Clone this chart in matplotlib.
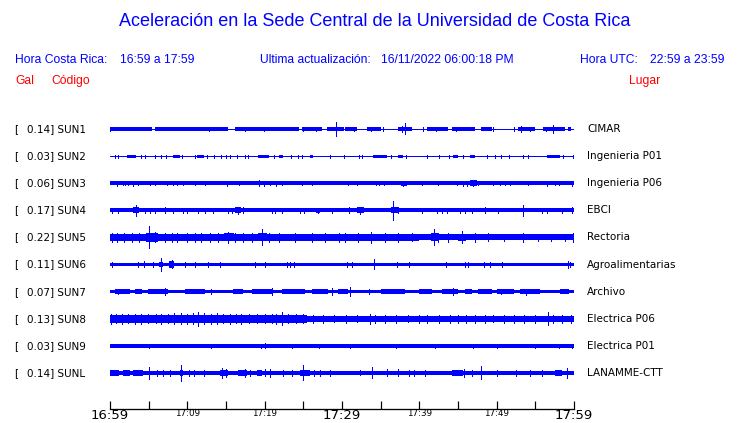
import matplotlib
matplotlib.use("Agg")
import matplotlib.pyplot as plt

# ---------------- data ----------------
codes = ["SUN1", "SUN2", "SUN3", "SUN4", "SUN5", "SUN6", "SUN7", "SUN8", "SUN9", "SUNL"]
gals = [0.14, 0.03, 0.06, 0.17, 0.22, 0.11, 0.07, 0.13, 0.03, 0.14]
places = ["CIMAR", "Ingenieria P01", "Ingenieria P06", "EBCI", "Rectoria",
          "Agroalimentarias", "Archivo", "Electrica P06", "Electrica P01", "LANAMME-CTT"]
tick_labels = ["16:59", "", "17:09", "", "17:19", "", "17:29", "", "17:39", "", "17:49", "", "17:59"]
tick_minutes = [0, 5, 10, 15, 20, 25, 30, 35, 40, 45, 50, 55, 60]

# baseline half-amplitude of each trace (pixels)
base_half = [0.5, 0.5, 1.9, 1.9, 2.9, 1.9, 1.9, 2.8, 1.9, 1.9]

# thicker sections of each trace: (start minute, end minute, half-amplitude px)
seg_sun1 = [(0, 5.4, 1.8), (5.8, 12.3, 1.8), (12.3, 15.3, 1.8), (16.2, 19.6, 1.8), (19.6, 24.4, 1.8),
            (24.8, 27.4, 1.8), (28, 30.2, 2.1), (30.4, 31.9, 1.8), (33.2, 35.1, 1.8), (37.3, 39, 2.1),
            (41, 43.7, 1.8), (44.2, 47.2, 1.8), (48, 49.4, 1.8), (52.8, 55, 1.9), (56, 58.8, 1.8),
            (59.2, 59.6, 1.8)]
seg_sun2 = [(2.2, 3.4, 1.5), (8.2, 9.0, 1.5), (11.2, 12.1, 1.5), (19.2, 20.5, 1.5), (21.8, 22.4, 1.5),
            (25.9, 26.3, 1.5), (34.0, 35.8, 1.5), (37.3, 37.9, 1.5), (44.4, 45.0, 1.5), (46.6, 47.2, 1.5),
            (56.5, 58.2, 1.5)]
seg_sun3 = [(37.6, 38.4, 2.5), (46.6, 47.4, 2.8)]
seg_sun4 = [(3.0, 3.7, 3.0), (16.2, 17.0, 3.0), (26.6, 27.1, 2.7), (32.0, 32.8, 3.0), (36.3, 37.4, 2.8)]
seg_sun5 = [(0, 25, 3.6), (25, 40, 3.2), (4.6, 6.2, 4.5), (14.8, 16.0, 4.1), (19.2, 20.3, 4.1),
            (41.5, 42.6, 4.0), (45.0, 46.0, 3.8)]
seg_sun6 = [(7.6, 8.3, 3.2), (6.4, 6.9, 2.7)]
seg_sun7 = [(0.65, 2.59, 2.7), (3.23, 4.1, 2.7), (4.96, 7.54, 2.7), (9.7, 12.28, 2.7), (15.95, 17.24, 2.7),
            (18.32, 20.9, 2.7), (22.2, 25.2, 2.7), (26.08, 28.2, 2.7), (29.5, 30.8, 2.7), (35.1, 38.1, 2.7),
            (39.9, 41.6, 2.7), (42.9, 45.05, 2.7), (45.9, 46.8, 2.7), (47.6, 49.4, 2.7), (50.0, 52.2, 2.7),
            (53.0, 55.6, 2.7), (58.2, 59.3, 2.7)]
seg_sun8 = [(0, 25.5, 3.9), (45.5, 47.5, 3.2), (52.0, 54.0, 3.2), (55.5, 58.0, 3.2)]
seg_sun9 = []
seg_sunl = [(0, 1.1, 2.6), (1.72, 2.6, 2.6), (3.02, 4.3, 2.6), (9.05, 9.5, 2.6), (14.2, 15.3, 3.4),
            (16.6, 17.7, 2.6), (19.0, 19.6, 2.6), (24.57, 25.9, 3.4), (44.2, 45.7, 2.6), (57.5, 58.4, 2.6)]
segments = [seg_sun1, seg_sun2, seg_sun3, seg_sun4, seg_sun5, seg_sun6, seg_sun7, seg_sun8, seg_sun9, seg_sunl]

# spikes of each trace: minute and half-amplitude (px)
spk_t_sun1 = [0.0, 12.8, 17.5, 19.9, 24.9, 26.6, 29.2, 31.5, 33.8, 35.3, 37.7, 38.2, 40.5, 42.2, 44.7,
              49.5, 52.2, 53.1, 54.3, 56.4, 57.3, 60.0]
spk_a_sun1 = [2, 2, 2, 2, 1.8, 1.8, 7.3, 2, 2, 2, 3, 5.5, 1.8, 2.2, 2.2, 1.8, 1.8, 3.2, 2, 2.3, 4, 2]
spk_t_sun2 = [0.6, 1.0, 4.0, 4.5, 5.8, 6.6, 7.2, 9.3, 11.0, 12.5, 13.5, 14.3, 15.0, 15.5, 16.4, 17.5,
              17.9, 21.2, 23.4, 24.3, 24.8, 28.5, 30.2, 32.2, 32.6, 36.3, 38.3, 41.0, 42.6, 43.8, 45.6,
              48.7, 49.8, 50.5, 51.6, 53.4, 54.0, 58.6, 59.9]
spk_a_sun2 = [1.5] * len(spk_t_sun2)
spk_t_sun3 = [0.86, 1.72, 1.94, 2.28, 3.02, 3.66, 5.17, 5.82, 7.33, 8.19, 8.62, 9.48, 10.99, 12.28,
              15.08, 16.68, 19.27, 19.96, 20.69, 21.42, 22.20, 24.87, 26.08, 30.82, 31.98, 34.35,
              34.79, 35.48, 37.93, 40.39, 42.46, 44.83, 45.69, 46.12, 46.98, 47.63, 49.57, 50.43,
              51.08, 51.72, 54.09, 56.46, 57.54, 58.06, 59.69]
spk_a_sun3 = [2.4, 2.3, 2.3, 2.3, 2.4, 2.3, 2.3, 2.3, 2.3, 2.3, 2.3, 2.3, 2.3, 2.3, 2.4, 2.3, 3.3,
              2.6, 2.3, 2.5, 2.3, 2.3, 2.3, 2.3, 2.3, 2.3, 2.3, 2.3, 2.6, 2.3, 2.3, 2.3, 2.4, 2.4,
              2.6, 2.3, 2.3, 2.3, 2.3, 2.3, 2.3, 2.4, 2.3, 2.3, 2.5]
spk_t_sun4 = [0.22, 1.08, 3.32, 4.53, 5.17, 5.82, 7.11, 8.19, 9.48, 9.91, 11.42, 12.28, 13.28, 15.30,
              15.73, 16.59, 17.24, 20.90, 21.34, 22.20, 24.57, 25.13, 26.86, 28.67, 30.95, 32.33,
              36.64, 37.29, 40.30, 42.24, 42.89, 43.54, 45.26, 45.91, 46.77, 48.49, 50.13, 53.45,
              55.82, 56.46, 58.40, 59.69]
spk_a_sun4 = [2.4, 2.4, 5.3, 2.4, 2.5, 2.4, 3, 2.4, 2.5, 2.5, 2.6, 2.4, 2.4, 2.4, 2.4, 3.5, 3, 2.4,
              2.5, 2.6, 2.4, 2.4, 2.6, 2.4, 3, 3.5, 9.3, 3, 2.4, 2.4, 2.5, 2.4, 2.5, 2.4, 2.4, 3,
              2.4, 5.3, 2.6, 2.5, 2.5, 3]
spk_t_sun5 = [0.2, 0.9, 1.8, 2.8, 3.8, 5.1, 5.8, 7.1, 8.0, 8.6, 9.9, 11.0, 11.8, 12.9, 14.0, 15.3,
              16.2, 17.2, 18.3, 19.7, 20.5, 21.8, 23.9, 26.1, 27.8, 29.6, 30.4, 32.1, 33.8, 35.5,
              37.3, 39.0, 41.9, 42.4, 43.7, 45.5, 47.2, 48.9, 51.0, 53.4, 55.3, 57.0, 58.8, 59.9]
spk_a_sun5 = [4.3, 4.5, 4.7, 4.3, 4.7, 11, 5, 4.5, 4.3, 4.7, 4.3, 4.5, 4.3, 4.7, 4.3, 5.2, 4.5, 4.3,
              4.7, 8, 4.7, 4.3, 4.7, 4.4, 4.3, 4.5, 4.3, 4.7, 5.3, 4.3, 4.3, 4.1, 8, 4.7, 4.3, 6,
              4.3, 4.1, 3.8, 4.3, 3.8, 3.8, 3.8, 4.3]
spk_t_sun6 = [0.22, 3.66, 4.40, 5.60, 6.60, 7.97, 9.70, 10.99, 12.71, 14.22, 18.75, 20.04, 22.84,
              23.27, 23.83, 30.60, 31.25, 34.14, 37.07, 38.71, 43.41, 45.91, 46.25, 48.40, 49.14,
              50.65, 59.27, 59.5]
spk_a_sun6 = [2.4, 2.4, 3, 2.4, 6.3, 4, 2.4, 2.6, 2.4, 2.6, 2.4, 2.4, 2.4, 2.4, 2.4, 2.4, 2.4, 5,
              2.4, 2.4, 2.4, 2.4, 2.4, 2.4, 2.4, 2.4, 3.2, 2.8]
spk_t_sun7 = [1.0, 7.1, 13.0, 20.9, 28.7, 31.0, 33.5, 44.4, 50.5, 53.8]
spk_a_sun7 = [2.8, 3.2, 2.8, 3.2, 3.2, 4.3, 2.8, 3.5, 2.8, 3.0]
spk_t_sun8 = [0.1, 0.8, 1.5, 2.3, 3.2, 4.0, 4.9, 5.9, 6.6, 7.5, 8.3, 9.2, 10.0, 10.7, 11.4, 12.2,
              13.0, 13.8, 14.6, 15.5, 16.3, 17.0, 18.0, 19.0, 20.0, 20.9, 21.5, 22.2, 23.0, 24.0,
              25.0, 26.3, 27.5, 29.0, 30.5, 31.9, 33.6, 34.3, 35.5, 37.0, 38.5, 40.0, 41.0, 42.6,
              44.0, 45.0, 46.0, 47.2, 48.5, 49.5, 51.0, 52.3, 53.5, 55.0, 56.6, 57.3, 58.5, 59.6]
spk_a_sun8 = [5, 4.7, 5, 4.7, 4.9, 5, 4.7, 4.6, 5, 4.7, 5.3, 5.5, 5, 5.5, 7, 5.5, 5, 5.3, 4.7, 5,
              4.7, 5, 4.7, 4.6, 4.7, 4.7, 5, 6.3, 4.7, 4.7, 4.6, 3.8, 3.8, 3.6, 3.8, 3.6, 5, 4.1,
              3.8, 3.8, 3.6, 3.8, 3.8, 3.8, 4.1, 3.8, 4.0, 3.8, 3.8, 3.6, 3.8, 3.9, 3.8, 3.8, 6.3,
              4.1, 3.8, 3.8]
spk_t_sun9 = [5, 13, 19.5, 20.0, 23.5, 27, 31, 37, 42, 47, 50, 55, 58, 59.7]
spk_a_sun9 = [2.2, 2.2, 2.2, 2.4, 2.2, 2.2, 2.2, 2.2, 2.2, 2.2, 2.2, 2.2, 2.2, 2.3]
spk_t_sunl = [5.0, 6.1, 6.8, 7.7, 9.13, 10.2, 10.9, 12.2, 14.5, 15.0, 17.45, 18.1, 20.04, 20.69,
              22.4, 23.5, 25.0, 26.4, 27.2, 28.4, 32.3, 33.84, 35.8, 37.3, 38.6, 39.3, 40.7, 45.82,
              46.8, 47.98, 50.0, 52.5, 54.3, 55.9, 59.14]
spk_a_sunl = [6, 2.8, 2.8, 2.6, 8, 3, 3, 2.8, 5, 4, 4, 3, 3.5, 4, 2.8, 3, 7.5, 2.8, 2.8, 3, 2.5,
              5.5, 3.5, 3.5, 2.8, 2.6, 2.8, 4, 2.8, 6.5, 2.8, 2.6, 2.8, 2.8, 5]
spike_times = [spk_t_sun1, spk_t_sun2, spk_t_sun3, spk_t_sun4, spk_t_sun5,
               spk_t_sun6, spk_t_sun7, spk_t_sun8, spk_t_sun9, spk_t_sunl]
spike_amps = [spk_a_sun1, spk_a_sun2, spk_a_sun3, spk_a_sun4, spk_a_sun5,
              spk_a_sun6, spk_a_sun7, spk_a_sun8, spk_a_sun9, spk_a_sunl]

# ---------------- layout ----------------
W, H = 740, 423
fig = plt.figure(figsize=(W / 100, H / 100), dpi=100)
fig.patch.set_facecolor("white")

X0, X1 = 110, 574          # pixel extent of the time axis
YTOP, YBOT = 100, 409      # pixel extent of the trace area
ax = fig.add_axes([X0 / W, 1 - YBOT / H, (X1 - X0) / W, (YBOT - YTOP) / H])
ax.set_xlim(0, 60)
ax.set_ylim(YBOT, YTOP)    # y in pixel units, downward
ax.patch.set_alpha(0)

BLUE = "#0000ff"
Y_FIRST, Y_STEP = 129, 27.1
px = 0.72  # one pixel in points

for i, code in enumerate(codes):
    yc = Y_FIRST + Y_STEP * i
    b = base_half[i]
    if b < 0.8:
        ax.hlines(yc, 0, 60, color=BLUE, lw=1.0 * px, antialiased=False)
    else:
        ax.fill_between([0, 60], yc - b, yc + b, color=BLUE, lw=0, antialiased=False)
    for (t0, t1, h) in segments[i]:
        ax.fill_between([t0, t1], yc - h, yc + h, color=BLUE, lw=0, antialiased=False)
    ts, am = spike_times[i], spike_amps[i]
    ax.vlines(ts, [yc - a for a in am], [yc + a for a in am], color=BLUE,
              lw=1.0 * px, antialiased=False)
    # left label
    fig.text(14 / W, 1 - yc / H, "[", fontsize=7.5, family="DejaVu Sans",
             va="center", ha="left", color="black")
    fig.text(27 / W, 1 - yc / H, f"{gals[i]:.2f}] {code}", fontsize=7.5,
             family="DejaVu Sans", va="center", ha="left", color="black")
    fig.text(587 / W, 1 - yc / H, places[i], fontsize=7.5, family="DejaVu Sans",
             va="center", ha="left", color="black")

# axis
for s in ["top", "left", "right"]:
    ax.spines[s].set_visible(False)
ax.spines["bottom"].set_linewidth(1.3 * px)
ax.set_yticks([])
ax.set_xticks(tick_minutes)
ax.set_xticklabels(tick_labels)
ax.tick_params(axis="x", direction="in", length=8.5 * px, width=1.2 * px, pad=0.3,
               color="black")
for lab, txt in zip(ax.get_xticklabels(), tick_labels):
    lab.set_family("DejaVu Sans")
    if txt in ("16:59", "17:29", "17:59"):
        lab.set_fontsize(9.5)
    else:
        lab.set_fontsize(6.3)

# header texts
SANS = "Liberation Sans"
fig.text(375 / W, 1 - 22 / H, "Aceleración en la Sede Central de la Universidad de Costa Rica",
         fontsize=13, family=SANS, color=BLUE, ha="center", va="center")
fig.text(15 / W, 1 - 60 / H, "Hora Costa Rica:", fontsize=8.7, family=SANS, color=BLUE,
         ha="left", va="center")
fig.text(120 / W, 1 - 60 / H, "16:59 a 17:59", fontsize=8.7, family=SANS, color=BLUE,
         ha="left", va="center")
fig.text(260 / W, 1 - 60 / H, "Ultima actualización:", fontsize=8.7, family=SANS, color=BLUE,
         ha="left", va="center")
fig.text(381 / W, 1 - 60 / H, "16/11/2022 06:00:18 PM", fontsize=8.7, family=SANS, color=BLUE,
         ha="left", va="center")
fig.text(580 / W, 1 - 60 / H, "Hora UTC:", fontsize=8.7, family=SANS, color=BLUE,
         ha="left", va="center")
fig.text(650 / W, 1 - 60 / H, "22:59 a 23:59", fontsize=8.7, family=SANS, color=BLUE,
         ha="left", va="center")
fig.text(15 / W, 1 - 81 / H, "Gal", fontsize=8.7, family=SANS, color="#ff0000",
         ha="left", va="center")
fig.text(51 / W, 1 - 81 / H, "Código", fontsize=8.7, family=SANS, color="#ff0000",
         ha="left", va="center")
fig.text(629 / W, 1 - 81 / H, "Lugar", fontsize=8.7, family=SANS, color="#ff0000",
         ha="left", va="center")

fig.savefig("out.png", dpi=100, facecolor="white")
